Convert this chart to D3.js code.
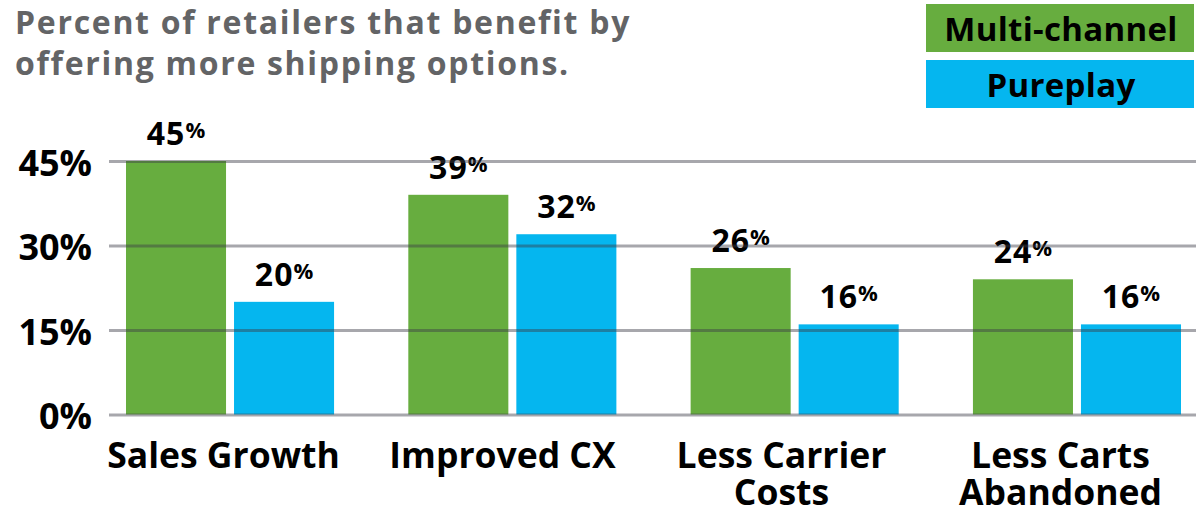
<!DOCTYPE html>
<html>
<head>
<meta charset="utf-8">
<script src="https://cdn.jsdelivr.net/npm/d3@7"></script>
<style>
  html, body { margin: 0; padding: 0; background: #fff; }
  svg { display: block; }
  text { font-family: "Open Sans", sans-serif; font-weight: 700; }
</style>
</head>
<body>
<svg id="chart" width="1197" height="514"></svg>
<script>
// ---- data ----
const categories = ["Sales Growth", "Improved CX", "Less Carrier Costs", "Less Carts Abandoned"];
const categoryLines = [["Sales Growth"], ["Improved CX"], ["Less Carrier", "Costs"], ["Less Carts", "Abandoned"]];
const seriesNames = ["Multi-channel", "Pureplay"];
const multiChannel = [45, 39, 26, 24];
const pureplay = [20, 32, 16, 16];
const yTicks = [0, 15, 30, 45];
const titleLines = ["Percent of retailers that benefit by", "offering more shipping options."];
const colors = ["#67ad3f", "#05b6ef"];

const svg = d3.select("#chart");

const y = d3.scaleLinear().domain([0, 45]).range([414.5, 161]);
const x0 = d3.scaleBand().domain(categories).range([126, 1181]).paddingInner(0.263).paddingOuter(0);
const x1 = d3.scaleBand().domain(seriesNames).range([0, x0.bandwidth()]).paddingInner(0.074).paddingOuter(0);
const xLabel = d3.scaleBand().domain(categories).range([84, 1200]).padding(0);
const color = d3.scaleOrdinal().domain(seriesNames).range(colors);

const rows = categories.map((c, i) => ({
  cat: c,
  values: [
    { s: seriesNames[0], v: multiChannel[i] },
    { s: seriesNames[1], v: pureplay[i] }
  ]
}));

// title
svg.append("text")
  .attr("x", 15).attr("y", 34)
  .attr("fill", "#636466")
  .style("font-size", "32px")
  .style("letter-spacing", "1.7px")
  .selectAll("tspan").data(titleLines).join("tspan")
  .attr("x", 15).attr("dy", (d, i) => i === 0 ? 0 : 41)
  .text(d => d);

// legend
const legend = svg.append("g");
seriesNames.forEach((s, i) => {
  legend.append("rect")
    .attr("x", 926).attr("y", 4 + i * 56)
    .attr("width", 268).attr("height", 48)
    .attr("fill", color(s));
  legend.append("text")
    .attr("x", 1061).attr("y", 4 + i * 56 + 36.5)
    .attr("text-anchor", "middle")
    .attr("fill", "#000")
    .style("font-size", "33px")
    .style("letter-spacing", "0.3px")
    .text(s);
});

// bars
const groups = svg.append("g").selectAll("g").data(rows).join("g")
  .attr("transform", d => `translate(${x0(d.cat)},0)`);

groups.selectAll("rect").data(d => d.values).join("rect")
  .attr("x", d => x1(d.s))
  .attr("y", d => y(d.v))
  .attr("width", x1.bandwidth())
  .attr("height", d => y(0) - y(d.v))
  .attr("fill", d => color(d.s));

// value labels
groups.selectAll("text.val").data(d => d.values).join("text")
  .attr("class", "val")
  .attr("x", d => x1(d.s) + x1.bandwidth() / 2)
  .attr("y", d => y(d.v) - 16)
  .attr("text-anchor", "middle")
  .attr("fill", "#000")
  .style("font-size", "32px")
  .style("letter-spacing", "1px")
  .each(function (d) {
    const t = d3.select(this);
    t.append("tspan").text(d.v);
    t.append("tspan").attr("dy", -7).style("font-size", "22px").style("letter-spacing", "0px").text("%");
  });

// gridlines (drawn over bars)
const yAxis = d3.axisLeft(y).tickValues(yTicks).tickSize(-(1196 - 109)).tickFormat(d => d + "%");
const ag = svg.append("g").attr("transform", "translate(109,0)").call(yAxis);
ag.select(".domain").remove();
ag.selectAll(".tick line")
  .attr("stroke", "rgb(60,60,70)")
  .attr("stroke-opacity", 0.45)
  .attr("stroke-width", 3);
ag.selectAll(".tick text")
  .attr("x", -17)
  .attr("dy", null)
  .attr("y", 14)
  .attr("fill", "#000")
  .style("font-size", "36px")
  .style("font-family", "'Open Sans', sans-serif")
  .style("font-weight", 700);

// category labels
const xl = svg.append("g").selectAll("text").data(categories).join("text")
  .attr("x", d => xLabel(d) + xLabel.bandwidth() / 2)
  .attr("y", 468)
  .attr("text-anchor", "middle")
  .attr("fill", "#000")
  .style("font-size", "35.5px");
xl.each(function (d, i) {
  d3.select(this).selectAll("tspan").data(categoryLines[i]).join("tspan")
    .attr("x", xLabel(d) + xLabel.bandwidth() / 2)
    .attr("dy", (l, j) => j === 0 ? 0 : 37)
    .text(l => l);
});
</script>
</body>
</html>
